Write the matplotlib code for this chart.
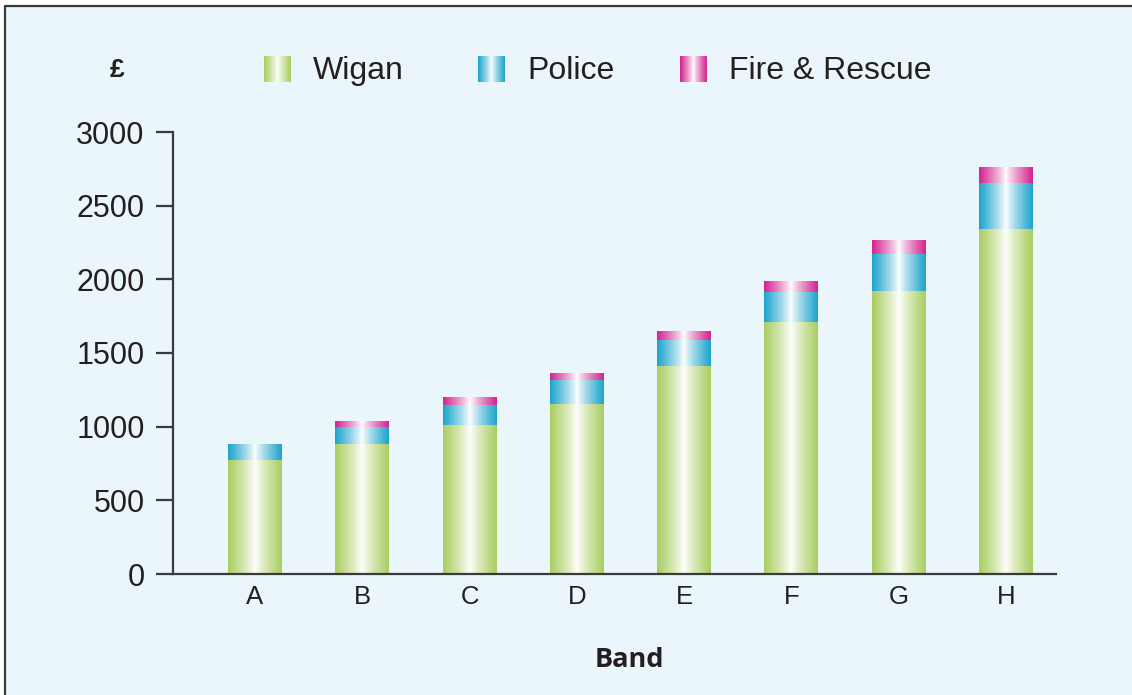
import numpy as np
import matplotlib.pyplot as plt
from matplotlib.colors import to_rgb
from matplotlib.patches import Rectangle

# Data
bands = ['A', 'B', 'C', 'D', 'E', 'F', 'G', 'H']
wigan = [775, 882, 1011, 1154, 1412, 1710, 1921, 2342]
police = [102, 116, 136, 163, 176, 204, 251, 312]
fire = [0, 34, 54, 47, 55, 68, 95, 108]
series_names = ['Wigan', 'Police', 'Fire & Rescue']
series_colors = ['#A9CD60', '#1BA3CC', '#D3238F']

W, H = 1132, 695
bg = '#EAF6FB'
dark = '#3A3A3A'
txt = '#231F20'
plt.rcParams['font.family'] = ['Liberation Sans', 'DejaVu Sans']


def gradient(color, n=256):
    # edge colour -> white in the middle -> edge colour
    t = np.abs(np.linspace(-1, 1, n)) ** 0.85
    c = np.array(to_rgb(color))
    img = 1 - (1 - c)[None, :] * t[:, None]
    return img[None, :, :]


fig = plt.figure(figsize=(W / 100, H / 100), dpi=100)
fig.patch.set_facecolor('white')

# overlay in pixel coordinates for the panel, legend and titles
ov = fig.add_axes([0, 0, 1, 1])
ov.set_axis_off()
ov.add_patch(Rectangle((4, 5), W, H, facecolor=bg, edgecolor='none', zorder=0))
ov.plot([5, 5, W], [H, 6, 6], color=dark, lw=1.6, solid_capstyle='butt')

leg_x = [264, 478, 680]
for lx, name, col in zip(leg_x, series_names, series_colors):
    ov.imshow(gradient(col), extent=[lx, lx + 27, 82, 56], aspect='auto',
              interpolation='bilinear', zorder=3)
    ov.text(lx + 49, 79, name, fontsize=23, color=txt, va='baseline', ha='left')
ov.text(117, 70, '£', fontsize=19, fontweight='bold', color=txt,
        ha='center', va='center')
ov.text(629, 660, 'Band', fontsize=19.5, fontweight='bold', color=txt,
        ha='center', va='center', family=['Open Sans', 'DejaVu Sans'])
ov.set_xlim(0, W)
ov.set_ylim(H, 0)

# main chart
ax = fig.add_axes([173 / W, 1 - 574 / H, (1056 - 173) / W, (574 - 132) / H])
ax.set_facecolor('none')
x = np.arange(len(bands))
bottom = np.zeros(len(bands))
for vals, col in zip([wigan, police, fire], series_colors):
    bars = ax.bar(x, vals, 0.503, bottom=bottom, color='none', linewidth=0)
    for r in bars:
        if r.get_height() <= 0:
            continue
        x0, y0 = r.get_x(), r.get_y()
        ax.imshow(gradient(col), extent=[x0, x0 + r.get_width(), y0, y0 + r.get_height()],
                  aspect='auto', interpolation='bilinear', zorder=2)
    bottom += np.array(vals)

ax.set_xlim(-0.764, 7.466)
ax.set_ylim(0, 3000)
ax.set_yticks(range(0, 3001, 500))
ax.set_xticks(x)
ax.set_xticklabels(bands)
for s in ['top', 'right']:
    ax.spines[s].set_visible(False)
for s in ['left', 'bottom']:
    ax.spines[s].set_color(dark)
    ax.spines[s].set_linewidth(1.6)
ax.spines['bottom'].set_zorder(3)
ax.tick_params(axis='y', length=12.5, width=1.6, color=dark, pad=8,
               labelsize=22, labelcolor=txt)
ax.tick_params(axis='x', length=0, pad=8, labelsize=18.5, labelcolor=txt)

plt.savefig('out.png', dpi=100)
